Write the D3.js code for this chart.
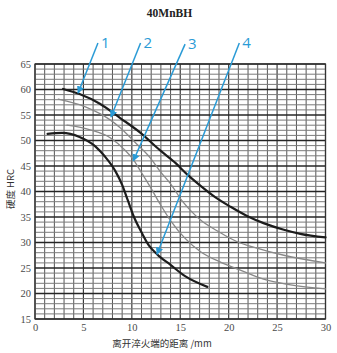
<!DOCTYPE html>
<html>
<head>
<meta charset="utf-8">
<script src="https://cdn.jsdelivr.net/npm/d3@7/dist/d3.min.js"></script>
<style>
  html, body { margin: 0; padding: 0; background: #fff; }
  svg { display: block; }
</style>
</head>
<body>
<svg id="chart" width="337" height="353"></svg>
<script>
// Jominy end-quench hardenability bands for 40MnBH steel
const title = "40MnBH";
const xTickLabels = [0, 5, 10, 15, 20, 25, 30];
const yTickLabels = [15, 20, 25, 30, 35, 40, 45, 50, 55, 60, 65];
const xTitle = "离开淬火端的距离 /mm";
const yTitle = "硬度 HRC";

// distance from quenched end (mm), hardness (HRC)
const curve1 = [[2.9,60.1],[4.6,59.1],[6.7,57.2],[8.8,54.4],[10.9,51.5],[12.9,48.1],[14.5,45.6],[15.8,43.2],[17.1,41.1],[18.6,38.9],[20.2,37.0],[21.9,35.2],[23.6,33.8],[25.7,32.5],[27.4,31.7],[30.0,31.0]];
const curve2 = [[2.4,58.1],[5.2,56.6],[7.8,54.0],[8.8,52.5],[10.3,49.7],[11.9,46.6],[12.9,44.0],[14.0,41.5],[15.3,37.9],[16.0,36.4],[17.1,34.4],[18.8,32.3],[21.2,29.9],[22.2,29.3],[25.7,27.5],[30.0,26.0]];
const curve3 = [[3.3,53.0],[5.7,52.1],[7.8,50.5],[9.3,48.1],[10.1,46.4],[10.9,44.0],[11.9,40.9],[12.9,37.6],[14.0,34.3],[15.5,30.8],[17.1,28.2],[19.1,26.2],[21.2,24.6],[23.6,22.8],[26.4,21.7],[30.0,20.9]];
const curve4 = [[1.3,51.3],[2.8,51.5],[4.6,50.7],[6.2,48.9],[7.2,46.9],[8.3,44.0],[9.0,41.3],[9.6,38.2],[10.2,35.1],[11.0,32.0],[11.7,29.6],[12.6,27.7],[14.0,25.6],[15.5,23.4],[17.8,21.3]];

const curveNames = ["1", "2", "3", "4"];
// callout arrows: tail near the number, head on the curve (chart units)
const calloutTails = [[6.5,69.1],[10.9,69.1],[15.5,68.9],[21.1,69.1]];
const calloutTips  = [[4.45,59.3],[7.85,54.6],[10.15,46.0],[12.6,27.7]];

const svg = d3.select("#chart");
const x = d3.scaleLinear().domain([0, 30]).range([35, 325.5]);
const y = d3.scaleLinear().domain([15, 65]).range([319, 64]);

const serif = "'Liberation Serif', 'DejaVu Serif', serif";
const cjk = "'Noto Sans CJK SC', 'Noto Sans', sans-serif";

// title
svg.append("text")
  .attr("x", 169.5).attr("y", 17)
  .attr("text-anchor", "middle")
  .attr("font-family", serif)
  .attr("font-weight", "bold")
  .attr("font-size", 11.5)
  .attr("fill", "#222")
  .text(title);

// grid
const grid = svg.append("g");
grid.selectAll("line.v")
  .data(d3.range(0, 31))
  .join("line")
  .attr("x1", d => x(d)).attr("x2", d => x(d))
  .attr("y1", y(65)).attr("y2", y(15))
  .attr("stroke", d => d % 5 === 0 ? "#3a3a3a" : "#555")
  .attr("stroke-width", d => d % 5 === 0 ? 1.2 : 1);
grid.selectAll("line.h")
  .data(d3.range(15, 66))
  .join("line")
  .attr("x1", x(0)).attr("x2", x(30))
  .attr("y1", d => y(d)).attr("y2", d => y(d))
  .attr("stroke", d => d % 5 === 0 ? "#262626" : "#7a7a7a")
  .attr("stroke-width", d => d % 5 === 0 ? 1.6 : 1);
grid.append("rect")
  .attr("x", x(0)).attr("y", y(65))
  .attr("width", x(30) - x(0)).attr("height", y(15) - y(65))
  .attr("fill", "none").attr("stroke", "#333").attr("stroke-width", 1.2);

// axes
const xAxis = svg.append("g")
  .attr("transform", `translate(0,${y(15)})`)
  .call(d3.axisBottom(x).tickValues(xTickLabels).tickSize(0).tickPadding(5));
const yAxis = svg.append("g")
  .attr("transform", `translate(${x(0)},0)`)
  .call(d3.axisLeft(y).tickValues(yTickLabels).tickSize(0).tickPadding(4));
[xAxis, yAxis].forEach(a => {
  a.select(".domain").remove();
  a.selectAll("text")
    .attr("font-family", serif)
    .attr("font-size", 10.5)
    .attr("fill", "#4a4a4a");
});

// axis titles
svg.append("text")
  .attr("x", 162).attr("y", 347)
  .attr("text-anchor", "middle")
  .attr("font-family", cjk)
  .attr("font-size", 9.5)
  .attr("fill", "#333")
  .text(xTitle);
svg.append("text")
  .attr("transform", `translate(14,${y(40.5)}) rotate(-90)`)
  .attr("text-anchor", "middle")
  .attr("font-family", cjk)
  .attr("font-size", 9.5)
  .attr("fill", "#333")
  .text(yTitle);

// curves
const line = d3.line()
  .x(d => x(d[0])).y(d => y(d[1]))
  .curve(d3.curveMonotoneX);
const series = [
  { data: curve1, color: "#1c1c1c", width: 2.2 },
  { data: curve2, color: "#888", width: 1.3 },
  { data: curve3, color: "#888", width: 1.3 },
  { data: curve4, color: "#1c1c1c", width: 2.2 }
];
svg.append("g").selectAll("path")
  .data(series)
  .join("path")
  .attr("d", d => line(d.data))
  .attr("fill", "none")
  .attr("stroke", d => d.color)
  .attr("stroke-width", d => d.width)
  .attr("stroke-linecap", "round");

// callouts
const blue = "#2a9bd6";
svg.append("defs").append("marker")
  .attr("id", "head")
  .attr("viewBox", "0 0 10 10")
  .attr("refX", 9).attr("refY", 5)
  .attr("markerWidth", 5).attr("markerHeight", 5)
  .attr("orient", "auto")
  .append("path")
  .attr("d", "M0,0 L10,5 L0,10 Z")
  .attr("fill", blue);

const callouts = curveNames.map((n, i) => ({ name: n, tail: calloutTails[i], tip: calloutTips[i] }));
const cg = svg.append("g").selectAll("g").data(callouts).join("g");
cg.append("line")
  .attr("x1", d => x(d.tail[0])).attr("y1", d => y(d.tail[1]))
  .attr("x2", d => x(d.tip[0])).attr("y2", d => y(d.tip[1]))
  .attr("stroke", blue).attr("stroke-width", 1.5)
  .attr("marker-end", "url(#head)");
cg.append("text")
  .attr("x", d => x(d.tail[0]) + 3)
  .attr("y", d => y(d.tail[1]) + 5)
  .attr("font-family", "'Open Sans', 'Noto Sans', sans-serif")
  .attr("font-size", 15)
  .attr("fill", blue)
  .text(d => d.name);
</script>
</body>
</html>
